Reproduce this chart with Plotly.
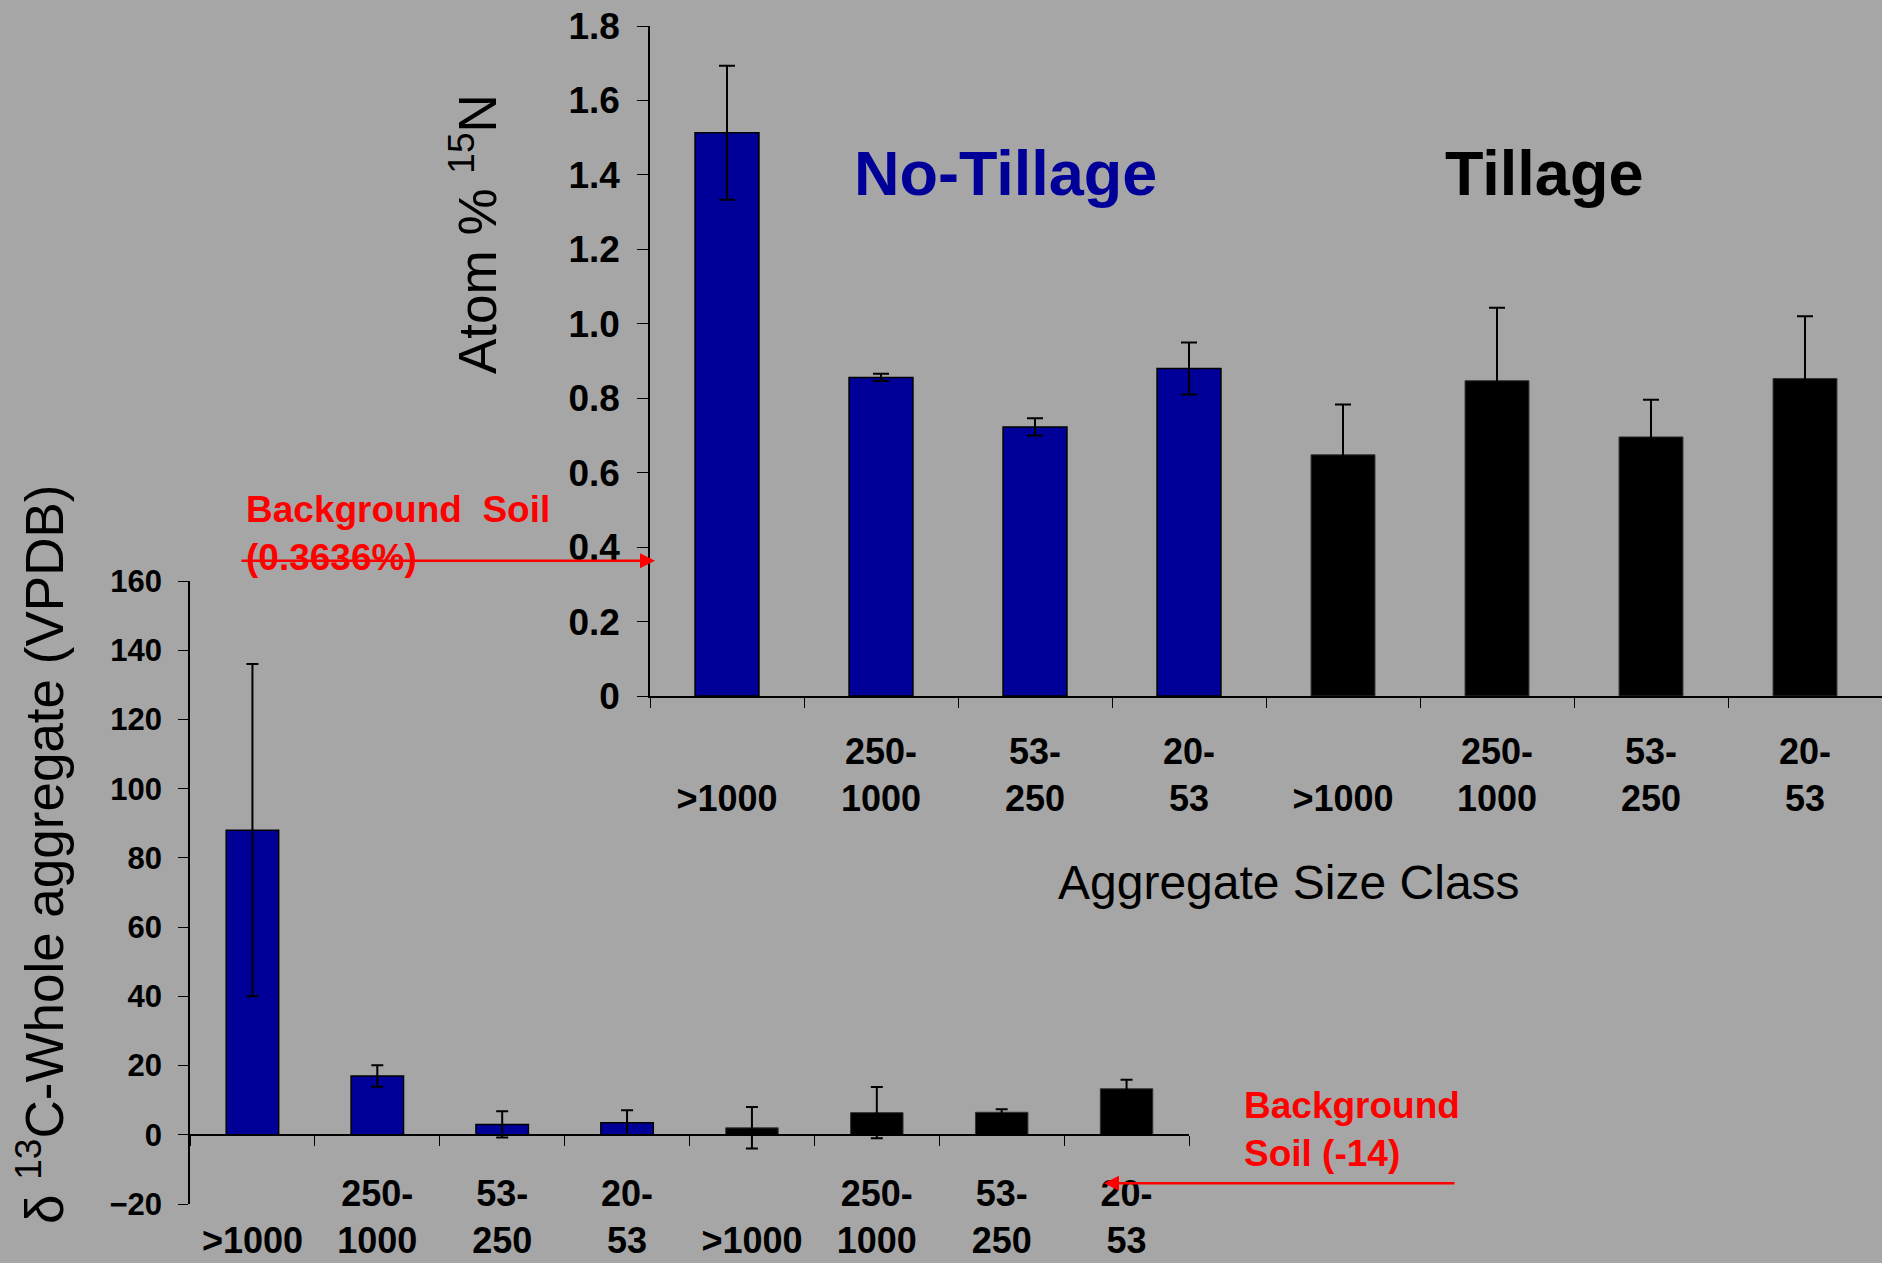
import plotly.graph_objects as go

# Aggregate size classes (micrometres), repeated for each tillage treatment
categories = [">1000", "250-1000", "53-250", "20-53"]

# Atom % 15N in whole aggregates
n15_no_tillage = [1.513, 0.856, 0.723, 0.880]
n15_no_tillage_err = [0.180, 0.010, 0.023, 0.070]
n15_tillage = [0.648, 0.847, 0.696, 0.853]
n15_tillage_err = [0.135, 0.196, 0.100, 0.167]

# delta 13C of whole aggregates (VPDB)
c13_no_tillage = [88.0, 17.0, 3.0, 3.5]
c13_no_tillage_err = [48.0, 3.1, 3.8, 3.6]
c13_tillage = [2.0, 6.4, 6.5, 13.3]
c13_tillage_err = [6.0, 7.4, 0.9, 2.6]

# Background soil reference values
n15_background = 0.3636
c13_background = -14

n15_ticks = [0, 0.2, 0.4, 0.6, 0.8, 1.0, 1.2, 1.4, 1.6, 1.8]
n15_ticktext = ["0", "0.2", "0.4", "0.6", "0.8", "1.0", "1.2", "1.4", "1.6", "1.8"]
c13_ticks = [-20, 0, 20, 40, 60, 80, 100, 120, 140, 160]

W, H = 1882, 1263
BG = "#a6a6a6"
BLUE = "#000099"
FONT = "Arial, Liberation Sans, sans-serif"


def px_x(p):
    return p / W


def px_y(p):
    return (H - p) / H


n = len(categories)
x_nt = list(range(n))
x_t = [i + n for i in range(n)]
tickvals = x_nt + x_t


def wrap(label):
    if "-" in label:
        a, b = label.split("-")
        return a + "-<br>" + b
    return "\u00a0<br>" + label


ticktext = [wrap(c) for c in categories] * 2
boundaries = [i - 0.5 for i in range(2 * n + 1)]

fig = go.Figure()

# Upper panel: 15N
fig.add_trace(go.Bar(
    x=x_nt, y=n15_no_tillage, width=0.415, xaxis="x", yaxis="y",
    marker=dict(color=BLUE, line=dict(color="black", width=1.5)),
    error_y=dict(type="data", array=n15_no_tillage_err, color="black", thickness=2, width=8),
))
fig.add_trace(go.Bar(
    x=x_t, y=n15_tillage, width=0.415, xaxis="x", yaxis="y",
    marker=dict(color="black", line=dict(color="#333333", width=1)),
    error_y=dict(type="data", array=n15_tillage_err, color="black", thickness=2, width=8),
))

# Lower panel: 13C
fig.add_trace(go.Bar(
    x=x_nt, y=c13_no_tillage, width=0.42, xaxis="x2", yaxis="y2",
    marker=dict(color=BLUE, line=dict(color="black", width=1.5)),
    error_y=dict(type="data", array=c13_no_tillage_err, color="black", thickness=2, width=6),
))
fig.add_trace(go.Bar(
    x=x_t, y=c13_tillage, width=0.42, xaxis="x2", yaxis="y2",
    marker=dict(color="black", line=dict(color="#333333", width=1)),
    error_y=dict(type="data", array=c13_tillage_err, color="black", thickness=2, width=6),
))

# Lower panel geometry: x axis crosses the y axis at zero
y2_range = [-20, 160]
y2_domain = [px_y(1204), px_y(581)]
x2_position = y2_domain[0] + (0 - y2_range[0]) / (y2_range[1] - y2_range[0]) * (y2_domain[1] - y2_domain[0])

common_x = dict(
    range=[-0.5, 2 * n - 0.5], showgrid=False, zeroline=False, showline=True,
    linecolor="black", linewidth=1.5, tickmode="array", tickvals=tickvals, ticktext=ticktext,
    ticks="outside", ticklen=0, tickcolor="black", automargin=False,
    minor=dict(tickmode="array", tickvals=boundaries, ticks="outside", ticklen=10,
               tickcolor="black", tickwidth=1),
    tickfont=dict(family=FONT, size=36, color="black", weight="bold"),
    fixedrange=True,
)

fig.update_layout(
    width=W, height=H, margin=dict(l=0, r=0, t=0, b=0, pad=0, autoexpand=False),
    paper_bgcolor=BG, plot_bgcolor="rgba(0,0,0,0)", showlegend=False, barmode="overlay",
    font=dict(family=FONT, color="black"),
    xaxis=dict(common_x, domain=[px_x(650), 1.0], anchor="y", ticklabelstandoff=23),
    yaxis=dict(
        domain=[px_y(696), px_y(26)], range=[0, 1.8], anchor="x",
        showgrid=False, zeroline=False, showline=True, linecolor="black", linewidth=1.5,
        tickmode="array", tickvals=n15_ticks, ticktext=n15_ticktext,
        ticks="outside", ticklen=11, tickcolor="black", automargin=False, ticklabelstandoff=10,
        tickfont=dict(family=FONT, size=37, color="black", weight="bold"),
        fixedrange=True,
    ),
    xaxis2=dict(common_x, domain=[px_x(190), px_x(1189)], anchor="free",
                position=x2_position, ticklabelstandoff=27),
    yaxis2=dict(
        domain=y2_domain, range=y2_range, anchor="x2",
        showgrid=False, zeroline=False, showline=True, linecolor="black", linewidth=1.5,
        tickmode="array", tickvals=c13_ticks,
        ticks="outside", ticklen=10, tickcolor="black", automargin=False, ticklabelstandoff=10,
        tickfont=dict(family=FONT, size=31, color="black", weight="bold"),
        fixedrange=True,
    ),
)


def label(text, x, y, size, color="black", angle=0):
    return dict(text=text, x=px_x(x), y=px_y(y), xref="paper", yref="paper",
                xanchor="center", yanchor="middle", textangle=angle, showarrow=False,
                font=dict(family=FONT, size=size, color=color))


annotations = [
    # treatment labels
    label("<b>No-Tillage</b>", 1005, 173, 63, BLUE),
    label("<b>Tillage</b>", 1544, 173, 63),
    # axis titles
    label("Atom % <sup>15</sup>N", 474, 234, 53, angle=-90),
    label("\u03b4 <sup>13</sup>C-Whole aggregate (VPDB)", 40, 855, 53, angle=-90),
    label("Aggregate Size Class", 1289, 882, 48),
    # background soil notes
    dict(text="<b>Background\u00a0 Soil<br>(0.3636%)</b>", x=px_x(244), y=px_y(533),
         xref="paper", yref="paper", xanchor="left", yanchor="middle", align="left",
         showarrow=False, font=dict(family=FONT, size=37, color="red")),
    dict(text="", x=px_x(655), y=n15_background, xref="paper", yref="y",
         showarrow=True, ax=-415, ay=0, axref="pixel", ayref="pixel",
         arrowhead=2, arrowsize=1.2, arrowwidth=2.5, arrowcolor="red"),
    dict(text="<b>Background<br>Soil (-14)</b>", x=px_x(1242), y=px_y(1129),
         xref="paper", yref="paper", xanchor="left", yanchor="middle", align="left",
         showarrow=False, font=dict(family=FONT, size=37, color="red")),
    dict(text="", x=px_x(1104), y=c13_background, xref="paper", yref="y2",
         showarrow=True, ax=352, ay=0, axref="pixel", ayref="pixel",
         arrowhead=2, arrowsize=1.2, arrowwidth=2.5, arrowcolor="red"),
]
fig.update_layout(annotations=annotations)

fig.write_html("out.html")
